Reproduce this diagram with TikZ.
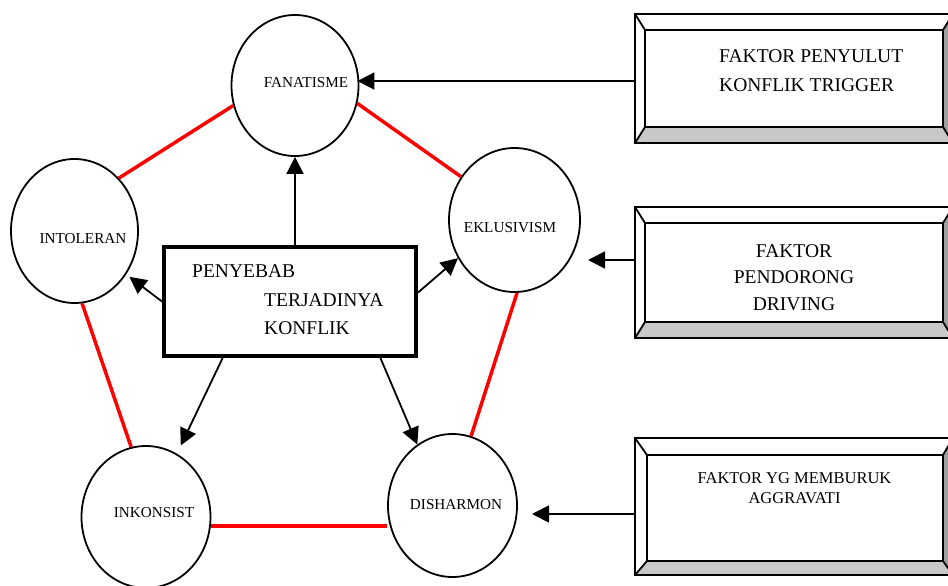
\documentclass[tikz,border=0pt]{standalone}
\usepackage{fontspec}
\setmainfont{Liberation Serif}
\usetikzlibrary{shapes.geometric,arrows.meta,calc}
\definecolor{bevlight}{HTML}{C8C8C8}
\definecolor{bevdark}{HTML}{A0A0A0}
\newcommand\mybevel[8]{%
 \fill[bevlight] (#1,#4) -- (#5,#8) -- (#7,#8) -- (#3,#4) -- cycle;
 \fill[bevdark] (#3,#2) -- (#7,#6) -- (#7,#8) -- (#3,#4) -- cycle;
 \draw[bevline] (#1,#2) rectangle (#3,#4);
 \draw[bevline] (#5,#6) rectangle (#7,#8);
 \draw[bevline] (#1,#2) -- (#5,#6) (#3,#2) -- (#7,#6) (#1,#4) -- (#5,#8) (#3,#4) -- (#7,#8);
}
\begin{document}
\begin{tikzpicture}[x=1pt,y=-1pt,
 ell/.style={ellipse, draw, line width=1.8pt, inner sep=0pt},
 lbl/.style={font=\fontsize{15.2}{18}\selectfont, inner sep=0pt},
 bigtxt/.style={font=\fontsize{19.5}{24}\selectfont, inner sep=0pt},
 midtxt/.style={font=\fontsize{16.5}{19}\selectfont, inner sep=0pt},
 redlink/.style={draw=red, line width=3.5pt},
 arr/.style={draw, line width=1.8pt, -{Triangle[length=17pt,width=17pt]}},
 bevline/.style={line width=1.8pt, line join=miter},
]
\useasboundingbox (0,0) rectangle (948,586);
\clip (0,0) rectangle (948,586);

% bevel boxes
\mybevel{635}{14}{953}{143}{645}{30}{943}{127}
\mybevel{635}{207}{953}{338}{645}{223}{943}{322}
\mybevel{635}{438}{953}{575}{647}{455}{943}{561}
\coordinate (b1a) at (635,81);
\coordinate (b2a) at (635,260);
\coordinate (b2e) at (588,260);
\coordinate (b3a) at (635,514);
\coordinate (b3e) at (532,514);

\node[bigtxt, anchor=base west] (t11) at (719,63) {FAKTOR PENYULUT};
\node[bigtxt, anchor=base west] (t12) at (719,92) {KONFLIK TRIGGER};
\node[bigtxt, anchor=base] (t21) at (794,257) {FAKTOR};
\node[bigtxt, anchor=base] (t22) at (794,283) {PENDORONG};
\node[bigtxt, anchor=base] (t23) at (794,310) {DRIVING};
\node[midtxt, anchor=base] (t31) at (794.5,483) {FAKTOR YG MEMBURUK};
\node[midtxt, anchor=base] (t32) at (794.5,503) {AGGRAVATI};

% ellipses
\node[ell, minimum width=127, minimum height=141] (fan) at (295,85.5) {};
\node[ell, minimum width=127, minimum height=144] (intol) at (74.5,231) {};
\node[ell, minimum width=131, minimum height=144] (eks) at (514.5,220) {};
\node[ell, minimum width=129, minimum height=142] (inkon) at (146,517) {};
\node[ell, minimum width=129, minimum height=143] (dish) at (452.5,505.5) {};

\node[lbl] (tfan) at (306,83) {FANATISME};
\node[lbl] (tint) at (83,239) {INTOLERAN};
\node[lbl] (teks) at (510,228) {EKLUSIVISM};
\node[lbl] (tink) at (154,513) {INKONSIST};
\node[lbl] (tdis) at (456,505) {DISHARMON};

% red links
\draw[redlink] (fan.198) -- (intol.50);
\draw[redlink] (fan.-16) -- (eks.141);
\draw[redlink] (intol.276) -- (inkon.102);
\draw[redlink] (eks.272) -- (dish.75);
\draw[redlink] (inkon.-8) -- (inkon.-8 -| dish.west);

% central box
\node[draw, line width=4pt, minimum width=252, minimum height=109, inner sep=0pt] (box) at (290,301.5) {};
\node[bigtxt, anchor=base west] (c1) at (192,277) {PENYEBAB};
\node[bigtxt, anchor=base west] (c2) at (264,306) {TERJADINYA};
\node[bigtxt, anchor=base west] (c3) at (264,334) {KONFLIK};

% arrows
\draw[arr] (box.north -| fan.south) -- (fan.south);
\draw[arr, shorten >=4pt] (box.west) -- (intol.-40);
\draw[arr] (box.4) -- (eks.214);
\draw[arr, shorten >=9pt] (box.220) -- (inkon.64);
\draw[arr] (box.328) -- (dish.120);
\draw[arr, shorten >=-2pt] (b1a) -- (b1a -| fan.east);
\draw[arr] (b2a) -- (b2e);
\draw[arr] (b3a) -- (b3e);
\end{tikzpicture}
\end{document}
